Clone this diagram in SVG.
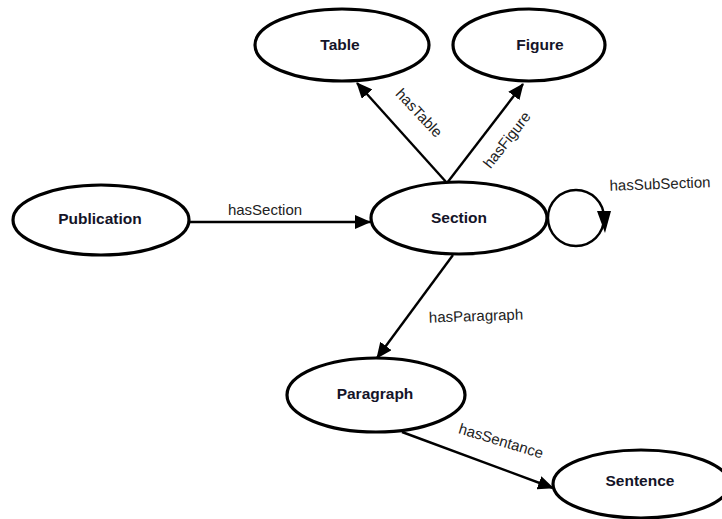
<svg xmlns="http://www.w3.org/2000/svg" width="722" height="519" viewBox="0 0 722 519">
<defs>
<marker id="arr" markerUnits="userSpaceOnUse" markerWidth="16" markerHeight="14" refX="15" refY="7" orient="auto">
<path d="M0,0 L16,7 L0,14 Z" fill="#000"/>
</marker>
<style>
.node ellipse{fill:#fff;stroke:#000;stroke-width:3.2}
.node text{font-family:"Liberation Sans",Arial,sans-serif;font-weight:bold;font-size:15.5px;fill:#141428;text-anchor:middle;dominant-baseline:central}
.edge{fill:none;stroke:#000;stroke-width:2.4}
.lbl{font-family:"Liberation Sans",Arial,sans-serif;font-size:15px;fill:#222;text-anchor:middle}
</style>
</defs>
<rect width="722" height="519" fill="#fff"/>
<g id="connectors">
<line class="edge" x1="190" y1="222" x2="370" y2="222" marker-end="url(#arr)"/>
<line class="edge" x1="447" y1="183" x2="357" y2="83" marker-end="url(#arr)"/>
<line class="edge" x1="447" y1="183" x2="523" y2="84" marker-end="url(#arr)"/>
<line class="edge" x1="453" y1="255" x2="377" y2="358" marker-end="url(#arr)"/>
<line class="edge" x1="402" y1="432" x2="553" y2="488" marker-end="url(#arr)"/>
<circle class="edge" cx="576" cy="218" r="28" stroke-width="3"/>
<path d="M597,211 L611,211 L605,233 Z" fill="#000"/>
<text class="lbl" x="265" y="215">hasSection</text>
<text class="lbl" transform="translate(419,113) rotate(47)" x="0" y="5">hasTable</text>
<text class="lbl" transform="translate(507,140) rotate(-52)" x="0" y="5">hasFigure</text>
<text class="lbl" transform="translate(660,184) rotate(-2)" x="0" y="5">hasSubSection</text>
<text class="lbl" transform="translate(476,316) rotate(-2)" x="0" y="5">hasParagraph</text>
<text class="lbl" transform="translate(501,441) rotate(17)" x="0" y="5">hasSentance</text>
</g>
<g id="node-table" class="node"><ellipse cx="342" cy="45" rx="87" ry="36"/><text x="340" y="44">Table</text></g>
<g id="node-figure" class="node"><ellipse cx="529" cy="45" rx="76" ry="36"/><text x="540" y="44">Figure</text></g>
<g id="node-publication" class="node"><ellipse cx="101" cy="220" rx="88" ry="35"/><text x="100" y="218">Publication</text></g>
<g id="node-section" class="node"><ellipse cx="459" cy="218" rx="88" ry="36"/><text x="459" y="217">Section</text></g>
<g id="node-paragraph" class="node"><ellipse cx="376" cy="395" rx="89" ry="37"/><text x="375" y="393">Paragraph</text></g>
<g id="node-sentence" class="node"><ellipse cx="641" cy="484" rx="88" ry="34"/><text x="640" y="480">Sentence</text></g>
</svg>
